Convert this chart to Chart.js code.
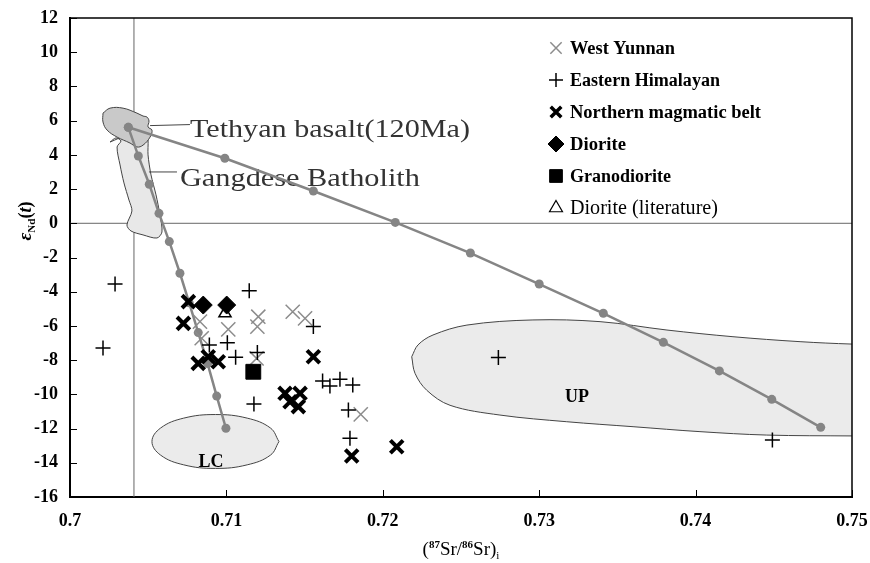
<!DOCTYPE html>
<html lang="en">
<head>
<meta charset="UTF-8">
<title>Sr-Nd isotopes</title>
<script src="https://cdn.jsdelivr.net/npm/chart.js"></script>
<style>
  body { margin: 0; background: #fff; }
  #wrap { width: 870px; height: 563px; }
</style>
</head>
<body>
<div id="wrap"><canvas id="srnd" width="870" height="563"></canvas></div>
<script>
// axis ticks
const xTicks = [0.7, 0.71, 0.72, 0.73, 0.74, 0.75];
const yTicks = [-16, -14, -12, -10, -8, -6, -4, -2, 0, 2, 4, 6, 8, 10, 12];

// samples: [(87Sr/86Sr)i, eNd(t)]
const westYunnan = [
  [0.70831, -5.75], [0.71012, -6.2], [0.71204, -5.46], [0.71198, -6.04],
  [0.71424, -5.17], [0.71503, -5.56], [0.70842, -6.72], [0.71193, -7.9],
  [0.71859, -11.17]
];
const easternHimalayan = [
  [0.70288, -3.55], [0.70211, -7.29], [0.71146, -3.94], [0.71556, -6.04],
  [0.70891, -7.11], [0.71006, -6.98], [0.71059, -7.83], [0.71198, -7.56],
  [0.71176, -10.56], [0.71615, -9.22], [0.71662, -9.51], [0.71726, -9.12],
  [0.71808, -9.45], [0.7178, -10.91], [0.7179, -12.57], [0.72739, -7.84],
  [0.74491, -12.67]
];
const northernBelt = [
  [0.70757, -4.58], [0.70725, -5.85], [0.7082, -8.19], [0.70884, -7.8],
  [0.70948, -8.09], [0.71556, -7.8], [0.71375, -9.94], [0.71471, -9.94],
  [0.71407, -10.43], [0.7146, -10.72], [0.71801, -13.6], [0.72089, -13.06]
];
const diorite = [[0.70852, -4.78], [0.71002, -4.78]];
const granodiorite = [[0.71172, -8.68]];
const dioriteLit = [[0.70991, -5.26]];

// mixing curves from the Tethyan basalt end member
const mixUpper = [
  [0.70373, 5.61], [0.7099, 3.8], [0.71556, 1.89], [0.7208, 0.05],
  [0.7256, -1.74], [0.73, -3.55], [0.7341, -5.26], [0.73794, -6.96],
  [0.74152, -8.63], [0.74487, -10.29], [0.748, -11.93]
];
const mixLower = [
  [0.70373, 5.61], [0.70437, 3.93], [0.70507, 2.28], [0.70569, 0.58],
  [0.70635, -1.07], [0.70703, -2.92], [0.70762, -4.65], [0.7082, -6.39],
  [0.7088, -8.2], [0.70938, -10.1], [0.70997, -11.98]
];

// reference lines
const srRef = [[0.70409, -16], [0.70409, 12]];
const ndRef = [[0.7, 0], [0.75, 0]];

// field outlines
const tethyanField = [
  [0.70211, 6.44], [0.70256, 6.73], [0.70339, 6.73], [0.70428, 6.44],
  [0.70467, 6.27], [0.70492, 6.21], [0.70505, 5.98], [0.70499, 5.63],
  [0.70524, 5.45], [0.70512, 5.04], [0.70467, 4.57], [0.70428, 4.46],
  [0.70384, 4.69], [0.70301, 5.04], [0.70237, 5.45], [0.70211, 5.92]
];
const gangdeseField = [
  [0.70256, 4.75], [0.70294, 4.99], [0.70326, 4.81], [0.70301, 4.46],
  [0.7032, 3.41], [0.70345, 2.36], [0.70377, 1.36], [0.70396, 0.72],
  [0.70364, -0.1], [0.7039, -0.45], [0.70467, -0.68], [0.70556, -0.86],
  [0.70588, -0.51], [0.70575, 0.49], [0.7055, 1.66], [0.70518, 2.83],
  [0.70499, 4.0], [0.70499, 4.87], [0.70486, 5.57]
];
const lcField = [
  [0.71336, -12.76], [0.71282, -11.97], [0.71133, -11.39], [0.7093, -11.18],
  [0.70727, -11.39], [0.70579, -11.97], [0.70524, -12.76], [0.70579, -13.55],
  [0.70727, -14.12], [0.7093, -14.33], [0.71133, -14.12], [0.71282, -13.55]
];
const upField = [
  [0.72185, -7.8], [0.72206, -8.77], [0.72281, -9.76], [0.7243, -10.64],
  [0.72749, -11.21], [0.73176, -11.6], [0.736, -11.89], [0.74028, -12.18],
  [0.74455, -12.38], [0.74998, -12.43], [0.7512, -12.43], [0.7512, -7.06],
  [0.74998, -7.06], [0.74668, -6.92], [0.74239, -6.63], [0.73817, -6.24],
  [0.73389, -5.75], [0.7296, -5.65], [0.72538, -5.95], [0.72321, -6.53],
  [0.72225, -7.11]
];

// leader lines for the field labels
const tethyanLeader = [[0.70512, 5.71], [0.70767, 5.77]];
const gangdeseLeader = [[0.70505, 3.0], [0.70684, 3.0]];

const pts = arr => arr.map(p => ({ x: p[0], y: p[1] }));
const closed = arr => pts(arr.concat([arr[0]]));

const serif = 'Liberation Serif';

function field(data, color, smooth) {
  return {
    type: 'line', data: closed(data), order: 10,
    borderColor: '#444', borderWidth: 1, backgroundColor: color,
    fill: 'shape', pointRadius: 0, tension: smooth
  };
}
function plain(data, color, width, order) {
  return {
    type: 'line', data: pts(data), order: order,
    borderColor: color, borderWidth: width, pointRadius: 0, fill: false, tension: 0
  };
}

function fitText(ctx, str, x, y, width) {
  const w = ctx.measureText(str).width;
  ctx.save();
  ctx.translate(x, y);
  ctx.scale(width / w, 1);
  ctx.fillText(str, 0, 0);
  ctx.restore();
}

function pieces(ctx, parts, x, y) {
  let total = 0;
  parts.forEach(p => { ctx.font = p.font; total += ctx.measureText(p.t).width; });
  let cx = x - total / 2;
  parts.forEach(p => {
    ctx.font = p.font;
    ctx.fillText(p.t, cx, y + (p.dy || 0));
    cx += ctx.measureText(p.t).width;
  });
}

const fieldLabels = {
  id: 'fieldLabels',
  beforeDatasetsDraw(chart) {
    const { ctx, scales: { x, y } } = chart;
    ctx.save();
    ctx.textBaseline = 'alphabetic';
    ctx.fillStyle = '#333';
    ctx.font = '26px "' + serif + '"';
    fitText(ctx, 'Tethyan basalt(120Ma)', x.getPixelForValue(0.70767), y.getPixelForValue(5.02), 280);
    ctx.font = '25px "' + serif + '"';
    fitText(ctx, 'Gangdese Batholith', x.getPixelForValue(0.70703), y.getPixelForValue(2.18), 240);
    ctx.restore();
  },
  afterDatasetsDraw(chart) {
    const { ctx, scales: { x, y } } = chart;
    ctx.save();
    ctx.fillStyle = '#000';
    ctx.textAlign = 'center';
    ctx.textBaseline = 'alphabetic';
    ctx.font = 'bold 18px "' + serif + '"';
    ctx.fillText('LC', x.getPixelForValue(0.70902), y.getPixelForValue(-14.25));
    ctx.fillText('UP', x.getPixelForValue(0.73242), y.getPixelForValue(-10.45));
    ctx.restore();
  }
};

const frame = {
  id: 'frame',
  afterDraw(chart) {
    const { ctx, chartArea: a, scales: { x, y } } = chart;
    ctx.save();
    ctx.strokeStyle = '#000';
    ctx.lineWidth = 1.5;
    ctx.beginPath();
    ctx.moveTo(a.left, a.top);
    ctx.lineTo(a.right, a.top);
    ctx.lineTo(a.right, a.bottom);
    ctx.stroke();
    ctx.lineWidth = 1;
    xTicks.forEach(v => {
      const px = Math.round(x.getPixelForValue(v)) + 0.5;
      ctx.beginPath(); ctx.moveTo(px, a.bottom); ctx.lineTo(px, a.bottom - 7); ctx.stroke();
    });
    yTicks.forEach(v => {
      const py = Math.round(y.getPixelForValue(v)) + 0.5;
      ctx.beginPath(); ctx.moveTo(a.left, py); ctx.lineTo(a.left + 7, py); ctx.stroke();
    });

    // axis titles
    ctx.fillStyle = '#000';
    ctx.textBaseline = 'alphabetic';
    pieces(ctx, [
      { t: '(', font: '19px "' + serif + '"' },
      { t: '87', font: 'bold 11px "' + serif + '"', dy: -7 },
      { t: 'Sr/', font: '19px "' + serif + '"' },
      { t: '86', font: 'bold 11px "' + serif + '"', dy: -7 },
      { t: 'Sr)', font: '19px "' + serif + '"' },
      { t: 'i', font: '11px "' + serif + '"', dy: 4 }
    ], (a.left + a.right) / 2, 555);
    ctx.save();
    ctx.translate(31, 221);
    ctx.rotate(-Math.PI / 2);
    pieces(ctx, [
      { t: 'ε', font: 'bold italic 19px "' + serif + '"' },
      { t: 'Nd', font: 'bold 11px "' + serif + '"', dy: 4 },
      { t: '(', font: 'bold 18px "' + serif + '"' },
      { t: 't', font: 'bold italic 18px "' + serif + '"' },
      { t: ')', font: 'bold 18px "' + serif + '"' }
    ], 0, 0);
    ctx.restore();

    // legend
    const rows = [
      { label: 'West Yunnan', style: 'crossRot', r: 8, color: '#8c8c8c', lw: 1.5, w: 105, font: 'bold 18px' },
      { label: 'Eastern Himalayan', style: 'cross', r: 7, color: '#000', lw: 1.5, w: 150, font: 'bold 18px' },
      { label: 'Northern magmatic belt', style: 'crossRot', r: 7.5, color: '#000', lw: 3.5, w: 191, font: 'bold 18px' },
      { label: 'Diorite', style: 'rectRot', r: 8, color: '#000', lw: 1, w: 56, font: 'bold 18px', fill: '#000' },
      { label: 'Granodiorite', style: 'rect', r: 9, color: '#000', lw: 1, w: 101, font: 'bold 18px', fill: '#000' },
      { label: 'Diorite (literature)', style: 'triangle', r: 7.5, color: '#000', lw: 1.2, w: 148, font: '20px', fill: '#fff' }
    ];
    rows.forEach((row, i) => {
      const cy = 48 + i * 32;
      ctx.strokeStyle = row.color;
      ctx.fillStyle = row.fill || row.color;
      ctx.lineWidth = row.lw;
      Chart.helpers.drawPoint(ctx, { pointStyle: row.style, radius: row.r, rotation: 0, borderWidth: row.lw }, 556, cy);
      ctx.fillStyle = '#000';
      ctx.font = row.font + ' "' + serif + '"';
      fitText(ctx, row.label, 570, cy + 6, row.w);
    });
    ctx.restore();
  }
};

const tickFont = { family: serif, size: 18, weight: 'bold' };

new Chart(document.getElementById('srnd'), {
  type: 'scatter',
  data: {
    datasets: [
      { data: pts(diorite), order: 0, pointStyle: 'rectRot', pointRadius: 9, backgroundColor: '#000', borderColor: '#000', borderWidth: 1 },
      { data: pts(granodiorite), order: 0, pointStyle: 'rect', pointRadius: 10.5, backgroundColor: '#000', borderColor: '#000', borderWidth: 1 },
      { data: pts(northernBelt), order: 1, pointStyle: 'crossRot', pointRadius: 9, borderColor: '#000', borderWidth: 4 },
      { data: pts(easternHimalayan), order: 2, pointStyle: 'cross', pointRadius: 7.5, borderColor: '#000', borderWidth: 1.5 },
      { data: pts(dioriteLit), order: 2.5, pointStyle: 'triangle', pointRadius: 7, backgroundColor: '#fff', borderColor: '#000', borderWidth: 1.5 },
      { data: pts(westYunnan), order: 3, pointStyle: 'crossRot', pointRadius: 10, borderColor: '#8c8c8c', borderWidth: 1.5 },
      { type: 'line', data: pts(mixUpper), order: 5, borderColor: '#858585', borderWidth: 2.5, pointRadius: 4.5, pointBackgroundColor: '#858585', pointBorderWidth: 0, tension: 0, fill: false },
      { type: 'line', data: pts(mixLower), order: 5, borderColor: '#858585', borderWidth: 2.5, pointRadius: 4.5, pointBackgroundColor: '#858585', pointBorderWidth: 0, tension: 0, fill: false },
      plain(tethyanLeader, '#444', 1, 6),
      plain(gangdeseLeader, '#444', 1, 6),
      Object.assign(field(tethyanField, '#c9c9c9', 0.4), { order: 9 }),
      field(gangdeseField, '#e8e8e8', 0.3),
      field(lcField, '#ebebeb', 0.4),
      field(upField, '#ebebeb', 0.35),
      plain(srRef, '#666', 1, 20),
      plain(ndRef, '#666', 1, 20)
    ]
  },
  options: {
    responsive: false,
    animation: false,
    devicePixelRatio: 1,
    layout: { padding: { top: 18, right: 18, left: 0, bottom: 0 } },
    plugins: { legend: { display: false }, tooltip: { enabled: false } },
    scales: {
      x: {
        type: 'linear', min: 0.7, max: 0.75,
        afterBuildTicks: ax => { ax.ticks = xTicks.map(v => ({ value: v })); },
        afterFit: ax => { ax.height = 66; ax.paddingLeft = 0; ax.paddingRight = 0; },
        grid: { display: false, drawTicks: false },
        border: { display: true, color: '#000', width: 2 },
        ticks: { padding: 14, color: '#000', font: tickFont, maxRotation: 0, autoSkip: false, callback: v => String(v) }
      },
      y: {
        type: 'linear', min: -16, max: 12,
        afterBuildTicks: ax => { ax.ticks = yTicks.map(v => ({ value: v })); },
        afterFit: ax => { ax.width = 70; ax.paddingTop = 0; ax.paddingBottom = 0; },
        grid: { display: false, drawTicks: false },
        border: { display: true, color: '#000', width: 2 },
        ticks: { padding: 12, color: '#000', font: tickFont, autoSkip: false, callback: v => String(v) }
      }
    }
  },
  plugins: [fieldLabels, frame]
});
</script>
</body>
</html>
